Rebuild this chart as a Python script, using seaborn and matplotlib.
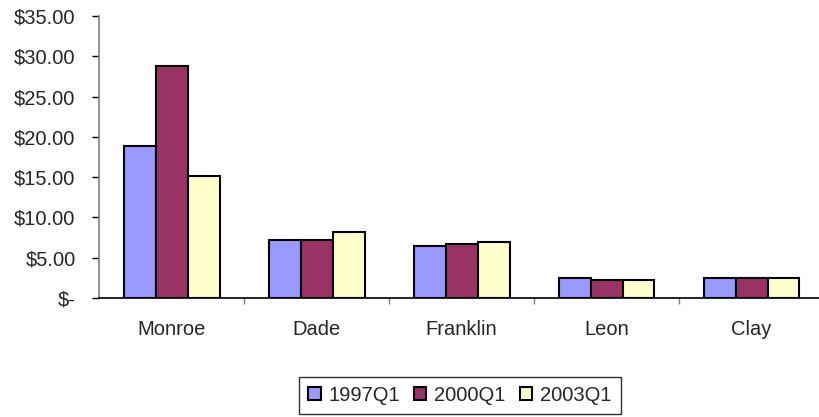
import numpy as np
import pandas as pd
import matplotlib
matplotlib.use('Agg')
import matplotlib.pyplot as plt
from matplotlib.ticker import FuncFormatter, FixedLocator
import seaborn as sns

# datos
condados = ['Monroe', 'Dade', 'Franklin', 'Leon', 'Clay']
periodos = ['1997Q1', '2000Q1', '2003Q1']
v_1997 = [18.85, 7.23, 6.49, 2.48, 2.48]
v_2000 = [28.75, 7.23, 6.77, 2.27, 2.48]
v_2003 = [15.15, 8.18, 6.94, 2.27, 2.48]
colores = ['#9999FF', '#993366', '#FFFFCC']

df = pd.DataFrame({
    'condado': condados * 3,
    'periodo': np.repeat(periodos, len(condados)),
    'valor': v_1997 + v_2000 + v_2003,
})

sns.set_style('white')
plt.rcParams['font.family'] = ['Liberation Sans', 'DejaVu Sans']

TAM = 14.5

fig = plt.figure(figsize=(8.2, 4.17), dpi=100)
ax = fig.add_axes([0.121, 0.285, 0.884, 0.677])

sns.barplot(
    data=df,
    x='condado',
    y='valor',
    hue='periodo',
    palette=colores,
    width=0.66,
    edgecolor='black',
    linewidth=1.5,
    saturation=1,
    ax=ax
)

ax.set_xlim(-0.5, 4.5)
ax.set_ylim(0, 35)
ax.set_yticks(np.arange(0, 36, 5))

def fmt_dolar(v, pos):
    if v == 0:
        return '$-'
    return f'${v:,.2f}'

ax.yaxis.set_major_formatter(FuncFormatter(fmt_dolar))

ax.set_xlabel('')
ax.set_ylabel('')

for s in ['top', 'right']:
    ax.spines[s].set_visible(False)
ax.spines['left'].set_color('#808080')
ax.spines['left'].set_linewidth(1.2)
ax.spines['bottom'].set_color('black')
ax.spines['bottom'].set_linewidth(1.2)

ax.tick_params(axis='y', direction='out', length=5, width=1, color='black',
               labelsize=TAM, pad=12, left=True)
ax.tick_params(axis='x', which='major', length=0, labelsize=TAM, pad=16)
ax.xaxis.set_minor_locator(FixedLocator(np.arange(0.5, 4.5, 1)))
ax.tick_params(axis='x', which='minor', direction='out', length=4, width=1,
               color='#808080', bottom=True)

handles, labels = ax.get_legend_handles_labels()
ax.get_legend().remove()
leg = fig.legend(
    handles, labels,
    loc='center',
    bbox_to_anchor=(0.561, 0.052),
    ncol=3,
    fontsize=TAM,
    frameon=True,
    fancybox=False,
    handlelength=0.6,
    handleheight=0.6,
    handletextpad=0.4,
    columnspacing=0.7,
    borderpad=0.45,
)
leg.get_frame().set_edgecolor('black')
leg.get_frame().set_linewidth(1)

plt.savefig('out.png', dpi=100)
